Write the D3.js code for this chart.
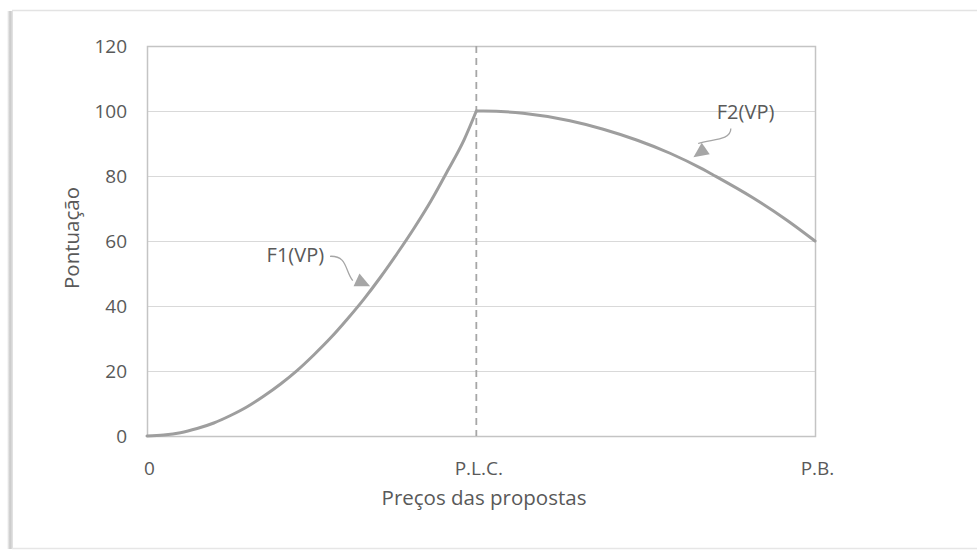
<!DOCTYPE html>
<html>
<head>
<meta charset="utf-8">
<script src="https://cdn.jsdelivr.net/npm/d3@7"></script>
<style>
  html, body { margin: 0; padding: 0; background: #ffffff; }
  svg { display: block; }
  text { font-family: "Open Sans", "Noto Sans", sans-serif; fill: #595959; }
</style>
</head>
<body>
<svg id="chart" width="977" height="550"></svg>
<script>
// ---- data ----
const yTicks = [0, 20, 40, 60, 80, 100, 120];
const xTickValues = [0, 49.3, 100];
const xTickLabels = ["0", "P.L.C.", "P.B."];
const plcValue = 49.3;

// F1(VP): rising part (x in % of P.B., y = pontuação)
const f1X = [0, 2.5, 5, 7.5, 10, 12.5, 15, 17.5, 20, 22.5, 25, 27.5, 30, 32.5, 35, 37.5, 40, 42.5, 45, 47.5, 49.3];
const f1Y = [0, 0.3, 1.0, 2.3, 4.0, 6.3, 9.0, 12.3, 16.0, 20.2, 25.0, 30.2, 36.0, 42.2, 49.0, 56.3, 64.0, 72.3, 81.6, 91.3, 100];

// F2(VP): decreasing part
const f2X = [49.3, 50.4, 56.3, 63.3, 68.3, 73.4, 78.3, 83.2, 84.7, 90.7, 95.8, 100];
const f2Y = [100, 100, 99.3, 97, 94.4, 91, 87, 82.1, 80.4, 73.3, 66.4, 60];

// annotations
const annLabels = ["F1(VP)", "F2(VP)"];

const xAxisTitle = "Preços das propostas";
const yAxisTitle = "Pontuação";

// ---- layout ----
const svg = d3.select("#chart");
const mLeft = 147, mRight = 815, mTop = 46, mBottom = 436;

const x = d3.scaleLinear().domain([0, 100]).range([mLeft, mRight]);
const y = d3.scaleLinear().domain([0, 120]).range([mBottom, mTop]);

// frame with shadow
const defs = svg.append("defs");
const grad = defs.append("linearGradient").attr("id", "shadowL").attr("x1", "0").attr("x2", "1");
grad.append("stop").attr("offset", "0").attr("stop-color", "#ffffff");
grad.append("stop").attr("offset", "0.5").attr("stop-color", "#c8c8c8");
grad.append("stop").attr("offset", "1").attr("stop-color", "#e6e6e6");
svg.append("rect").attr("x", 7).attr("y", 11).attr("width", 6).attr("height", 538)
  .attr("fill", "url(#shadowL)");
svg.append("line").attr("x1", 12).attr("x2", 977).attr("y1", 10.5).attr("y2", 10.5)
  .attr("stroke", "#e3e3e3").attr("stroke-width", 1.5);
svg.append("line").attr("x1", 12).attr("x2", 977).attr("y1", 548.5).attr("y2", 548.5)
  .attr("stroke", "#e6e6e6").attr("stroke-width", 1.5);

// gridlines
svg.append("g").selectAll("line").data(yTicks).join("line")
  .attr("x1", mLeft).attr("x2", mRight)
  .attr("y1", d => Math.round(y(d)) + 0.5).attr("y2", d => Math.round(y(d)) + 0.5)
  .attr("stroke", "#d9d9d9").attr("stroke-width", 1.2);

// plot border
svg.append("rect")
  .attr("x", mLeft + 0.5).attr("y", Math.round(y(120)) + 0.5)
  .attr("width", mRight - mLeft).attr("height", Math.round(y(0)) - Math.round(y(120)))
  .attr("fill", "none").attr("stroke", "#c4c4c4").attr("stroke-width", 1.5);

// dashed P.L.C. line
svg.append("line")
  .attr("x1", x(plcValue)).attr("x2", x(plcValue))
  .attr("y1", y(120)).attr("y2", y(0))
  .attr("stroke", "#a6a6a6").attr("stroke-width", 1.8)
  .attr("stroke-dasharray", "7,5");

// axes
const yAxis = d3.axisLeft(y).tickValues(yTicks).tickSize(0).tickPadding(20);
const gy = svg.append("g").attr("transform", `translate(${mLeft},0)`).call(yAxis);
gy.select(".domain").remove();
gy.selectAll("text").style("font-size", "19px").style("fill", "#595959")
  .style("font-family", "'Open Sans', sans-serif");

const xAxis = d3.axisBottom(x).tickValues(xTickValues)
  .tickFormat((d, i) => xTickLabels[i]).tickSize(0).tickPadding(26);
const gx = svg.append("g").attr("transform", `translate(0,${mBottom})`).call(xAxis);
gx.select(".domain").remove();
gx.selectAll("text").style("font-size", "19px").style("fill", "#595959")
  .style("font-family", "'Open Sans', sans-serif").attr("dx", 2);

// axis titles
svg.append("text").attr("x", 484).attr("y", 505).attr("text-anchor", "middle")
  .style("font-size", "20.5px").text(xAxisTitle);
svg.append("text").attr("transform", "translate(79,238) rotate(-90)").attr("text-anchor", "middle")
  .style("font-size", "20.5px").text(yAxisTitle);

// curves
const line = d3.line().x(d => x(d[0])).y(d => y(d[1])).curve(d3.curveMonotoneX);
const f1 = f1X.map((v, i) => [v, f1Y[i]]);
const f2 = f2X.map((v, i) => [v, f2Y[i]]);
[f1, f2].forEach(s => {
  svg.append("path").datum(s).attr("d", line)
    .attr("fill", "none").attr("stroke", "#9e9e9e").attr("stroke-width", 3)
    .attr("stroke-linejoin", "round").attr("stroke-linecap", "round");
});

// annotations
function arrowHead(tipX, tipY, angleDeg) {
  const a = angleDeg * Math.PI / 180, L = 15, W = 7;
  const bx = tipX - L * Math.cos(a), by = tipY - L * Math.sin(a);
  const px = -Math.sin(a) * W, py = Math.cos(a) * W;
  return `M${tipX},${tipY}L${bx + px},${by + py}L${bx - px},${by - py}Z`;
}

// F1 label
svg.append("text").attr("x", x(17.9)).attr("y", y(53.5)).style("font-size", "20px").text(annLabels[0]);
svg.append("path")
  .attr("d", `M${x(27.4)},${y(55.3)} C${x(30)},${y(55.5)} ${x(29.6)},${y(51)} ${x(30.8)},${y(47.8)}`)
  .attr("fill", "none").attr("stroke", "#a6a6a6").attr("stroke-width", 1.3);
svg.append("path").attr("d", arrowHead(x(33.4), y(46.1), 25)).attr("fill", "#a6a6a6");

// F2 label
svg.append("text").attr("x", x(85.3)).attr("y", y(97.4)).style("font-size", "20px").text(annLabels[1]);
svg.append("path")
  .attr("d", `M${x(87.4)},${y(94.6)} C${x(87.4)},${y(90.8)} ${x(84.5)},${y(91.4)} ${x(82.5)},${y(90)}`)
  .attr("fill", "none").attr("stroke", "#a6a6a6").attr("stroke-width", 1.3);
svg.append("path").attr("d", arrowHead(x(81.8), y(85.8), 145)).attr("fill", "#a6a6a6");
</script>
</body>
</html>
